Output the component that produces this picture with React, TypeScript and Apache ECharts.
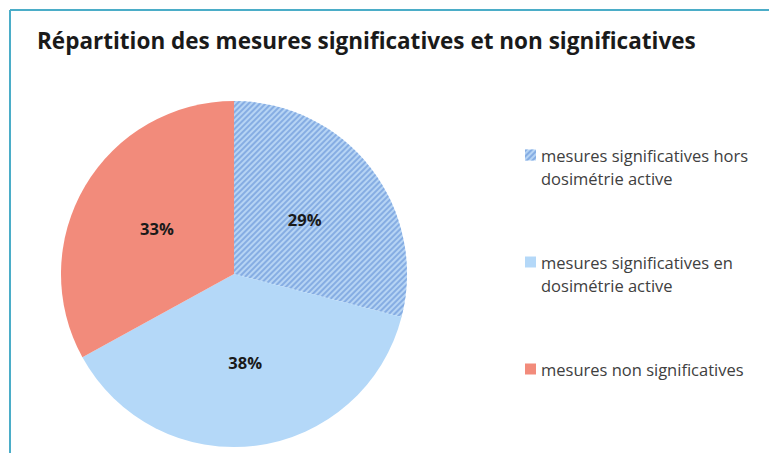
import React, { useEffect, useRef } from "react";
import * as echarts from "echarts";

const title = "Répartition des mesures significatives et non significatives";
const categories = [
  "mesures significatives hors\ndosimétrie active",
  "mesures significatives en\ndosimétrie active",
  "mesures non significatives",
];
const values = [29, 38, 33];
const colors = ["#b6d4f4", "#b4d8f8", "#f28b7b"];

const FONT = "Open Sans";

export default function App() {
  const ref = useRef<HTMLDivElement>(null);
  useEffect(() => {
    if (!ref.current) return;
    const chart = echarts.init(ref.current, undefined, { renderer: "svg" });
    const firstLines = categories.map((c) => c.split("\n")[0]);
    const data = values.map((v, i) => ({
      name: firstLines[i],
      value: v,
      itemStyle: {
        color: colors[i],
        decal:
          i === 0
            ? {
                symbol: "rect",
                dashArrayX: [1, 0],
                dashArrayY: [1.6, 2],
                rotation: -Math.PI / 4,
                color: "#86ade3",
                symbolSize: 1,
              }
            : { symbol: "none" },
      },
    }));
    const legendTops = [155, 262, 371];
    const extraTexts: any[] = [];
    categories.forEach((c, i) => {
      const parts = c.split("\n");
      parts.slice(1).forEach((p, j) => {
        extraTexts.push({
          type: "text",
          x: 541,
          y: legendTops[i] + 23 * (j + 1),
          style: {
            text: p,
            fill: "#404040",
            font: `16.5px '${FONT}'`,
            verticalAlign: "middle",
          },
        });
      });
    });
    chart.setOption({
      animation: false,
      aria: { enabled: true, decal: { show: true } },
      title: {
        text: title,
        left: 32,
        top: 24,
        textStyle: {
          fontFamily: FONT,
          fontWeight: "bold",
          fontSize: 22.5,
          color: "#1a1a1a",
        },
      },
      legend: {
        orient: "vertical",
        left: 520,
        top: 140,
        itemWidth: 11,
        itemHeight: 11,
        itemGap: 87,
        icon: "rect",
        data: firstLines,
        textStyle: {
          fontFamily: FONT,
          fontSize: 16.5,
          color: "#404040",
          lineHeight: 20,
        },
      },
      graphic: [
        {
          type: "line",
          shape: { x1: 10, y1: 10, x2: 769, y2: 10 },
          style: { stroke: "#4badc8", lineWidth: 2 },
        },
        {
          type: "line",
          shape: { x1: 10, y1: 10, x2: 10, y2: 453 },
          style: { stroke: "#4badc8", lineWidth: 2 },
        },
        ...extraTexts,
      ],
      series: [
        {
          type: "pie",
          center: [234, 274],
          radius: 173,
          startAngle: 90,
          clockwise: true,
          data,
          label: {
            show: true,
            position: "inner",
            formatter: "{c}%",
            fontFamily: FONT,
            fontWeight: "bold",
            fontSize: 16.5,
            color: "#1a1a1a",
          },
          labelLine: { show: false },
          emphasis: { disabled: true },
        },
      ],
    });
    return () => chart.dispose();
  }, []);
  return (
    <div
      ref={ref}
      style={{ position: "fixed", left: 0, top: 0, width: 769, height: 453, background: "#fff" }}
    />
  );
}
